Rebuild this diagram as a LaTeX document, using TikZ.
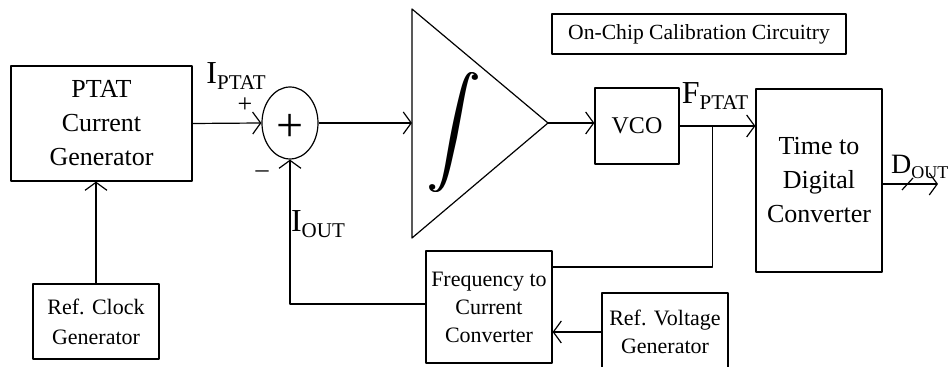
\documentclass[tikz,border=0pt]{standalone}
\usepackage{fontspec}
\setmainfont{Liberation Serif}
\usetikzlibrary{arrows.meta,shapes.geometric,calc}

% big letter with a lowered small subscript
\newcommand{\sublbl}[2]{{\fontsize{16}{18}\selectfont #1}\raisebox{-3pt}{\fontsize{10.5}{12}\selectfont #2}}

\begin{document}
\begin{tikzpicture}[x=.5pt,y=-.5pt,line width=.6pt,line join=round,
  >={Straight Barb[length=4pt,width=11pt]},
  block/.style={draw,align=center,inner sep=2pt,font=\fontsize{13}{17}\selectfont},
  smallblock/.style={block,font=\fontsize{11}{14}\selectfont},
  sig/.style={inner sep=0pt}]

\useasboundingbox (0,0) rectangle (950,367);

% Blocks of the loop.
\node[block,minimum width=90.5pt,minimum height=57.5pt] (ptat) at (101.5,123.5)
  {PTAT\\Current\\Generator};
\node[smallblock,minimum width=63pt,minimum height=37.5pt,font=\fontsize{11}{15}\selectfont]
  (rcg) at (96,321.5) {Ref. Clock\\Generator};
\node[draw,ellipse,minimum width=28pt,minimum height=36pt,inner sep=0pt] (sum) at (290,123) {};
\node[sig,font=\fontsize{24}{24}\selectfont] (sumsign) at (290,128) {+};
\coordinate (integ-in) at (412,123);
\coordinate (integ-out) at (548,123);
\draw (412,9) -- (integ-out) -- (412,238) -- cycle;
% the sign is set twice, a hair apart, to make it heavier
\node[sig] (integ) at (453,133) {\scalebox{2.7}{$\displaystyle\int$}};
\node[sig] (integb) at (454,133) {\scalebox{2.7}{$\displaystyle\int$}};
\node[block,minimum width=42pt,minimum height=38pt,font=\fontsize{12}{14}\selectfont]
  (vco) at (637,126) {VCO};
\node[block,minimum width=63pt,minimum height=91.5pt] (tdc) at (819,180.5)
  {Time to\\Digital\\Converter};
\node[smallblock,minimum width=63pt,minimum height=56pt] (fcc) at (489,307)
  {Frequency to\\Current\\Converter};
\node[smallblock,minimum width=63pt,minimum height=39pt] (rvg) at (665,332)
  {Ref. Voltage\\Generator};
\node[block,minimum width=147pt,minimum height=20pt,font=\fontsize{10.8}{13}\selectfont]
  (oncal) at (699,34) {On-Chip Calibration Circuitry};

% Signal paths.
\draw[->] (ptat.east) -- (sum.west);
\draw[->] (sum.east) -- (integ-in);
\draw[->] (integ-out) -- (integ-out -| vco.west);
\draw[->] (vco.east) -- (vco.east -| tdc.west);
\coordinate (fj) at ([xshift=16.5pt]vco.east);
\draw (fj) |- ([yshift=20pt]fcc.east);
\draw[->] ([yshift=1.5pt]fcc.west) -| (sum.south);
\draw[->] (rvg.west) -- (rvg.west -| fcc.east);
\draw[->] (rcg.north) -- (rcg.north |- ptat.south);
\coordinate (dout) at (938,184);
\draw[->] (tdc.east |- dout) -- (dout);
\draw ($(dout)+(-36,6)$) -- ($(dout)+(-25,-6)$);

% Signal names.
\node[sig] (iptat) at (236,76) {\sublbl{I}{PTAT}};
\node[sig,font=\fontsize{13}{13}\selectfont] (plus) at (245,105) {+};
\node[sig,font=\fontsize{13}{13}\selectfont] (minus) at (262,174) {–};
\node[sig] (iout) at (318,224) {\sublbl{I}{OUT}};
\node[sig] (fptat) at (715,96) {\sublbl{F}{PTAT}};
\node[sig,anchor=east] (doutlbl) at (949,167)
  {{\fontsize{14}{16}\selectfont D}\raisebox{-2.5pt}{\fontsize{9}{11}\selectfont OUT}};
\end{tikzpicture}
\end{document}
